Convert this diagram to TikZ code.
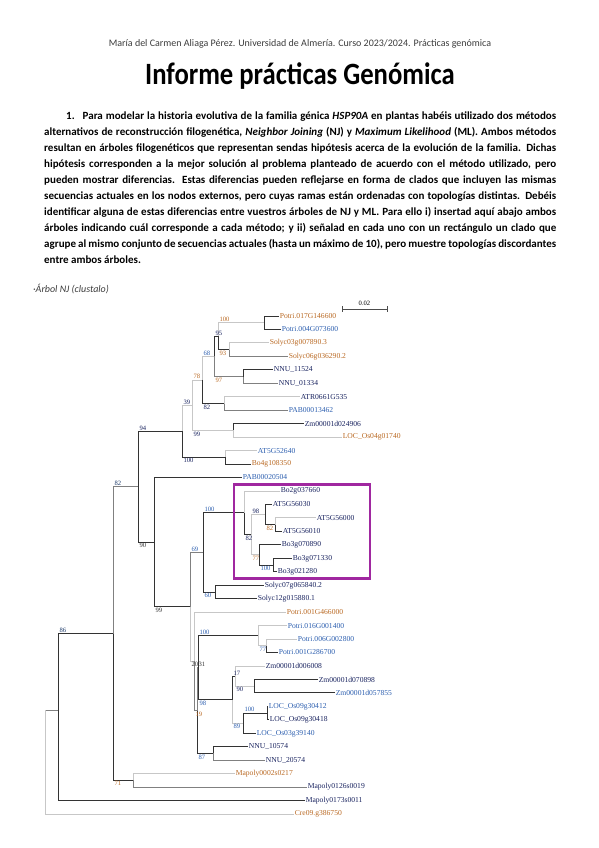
\documentclass[tikz,border=0pt]{standalone}
\usepackage{fontspec}
\setmainfont{Carlito}
\newfontfamily\treefont{Liberation Serif}
\newfontfamily\titlefont[FakeStretch=0.86]{Carlito}
\usepackage{tikz}
\definecolor{LeafNavy}{RGB}{25,35,95}
\definecolor{LeafBlue}{RGB}{45,95,175}
\definecolor{LeafOrange}{RGB}{185,105,35}
\definecolor{BoxPurple}{RGB}{160,40,160}
\definecolor{HeadGray}{RGB}{60,60,60}
\newcommand{\jline}[1]{\makebox[512pt][s]{#1}}

\begin{document}
\begin{tikzpicture}[x=1pt,y=-1pt,
  bd/.style={black!80, line width=0.9pt},
  bm/.style={black!50, line width=0.9pt},
  bl/.style={black!22, line width=0.9pt},
  leaf/.style={anchor=west, inner sep=0.6pt, font=\treefont\fontsize{7.6}{8}\selectfont},
  bsup/.style={anchor=south west, inner sep=0.3pt, font=\treefont\fontsize{6.6}{7}\selectfont},
  bsdn/.style={anchor=north west, inner sep=0.3pt, font=\treefont\fontsize{6.6}{7}\selectfont}]
  \path[use as bounding box] (0,0) rectangle (599,848);

  % page text
  \node[text=HeadGray, font=\fontsize{10}{12}\selectfont] (head) at (300,44)
    {María del Carmen Aliaga Pérez. Universidad de Almería. Curso 2023/2024. Prácticas genómica};
  \node[font=\titlefont\fontsize{31}{34}\selectfont\bfseries] (title) at (300,76) {Informe prácticas Genómica};
  \node[anchor=north west, inner sep=0pt, align=left, font=\fontsize{11}{15.9}\selectfont\bfseries] (task) at (44,112) {
    \jline{\hspace*{22pt}1.\hspace{8pt}Para modelar la historia evolutiva de la familia génica \textit{HSP90A} en plantas habéis utilizado dos métodos}\\
    \jline{alternativos de reconstrucción filogenética, \textit{Neighbor Joining} (NJ) y \textit{Maximum Likelihood} (ML). Ambos métodos}\\
    \jline{resultan en árboles filogenéticos que representan sendas hipótesis acerca de la evolución de la familia. Dichas}\\
    \jline{hipótesis corresponden a la mejor solución al problema planteado de acuerdo con el método utilizado, pero}\\
    \jline{pueden mostrar diferencias. Estas diferencias pueden reflejarse en forma de clados que incluyen las mismas}\\
    \jline{secuencias actuales en los nodos externos, pero cuyas ramas están ordenadas con topologías distintas. Debéis}\\
    \jline{identificar alguna de estas diferencias entre vuestros árboles de NJ y ML. Para ello i) insertad aquí abajo ambos}\\
    \jline{árboles indicando cuál corresponde a cada método; y ii) señalad en cada uno con un rectángulo un clado que}\\
    \jline{agrupe al mismo conjunto de secuencias actuales (hasta un máximo de 10), pero muestre topologías discordantes}\\
    entre ambos árboles.};
  \node[anchor=west, inner sep=0pt, text=HeadGray, font=\fontsize{10}{12}\selectfont\itshape] (treecap) at (33,289) {·Árbol NJ (clustalo)};

  % scale bar
  \draw[black!70, line width=0.7pt] (342,306) -- (342,312) (342,309) -- (387,309) (387,306) -- (387,312);
  \node[anchor=south, inner sep=0.5pt, font=\treefont\fontsize{6.6}{7}\selectfont] (scalelbl) at (364.5,306) {0.02};

  % leaves
  \node[leaf, text=LeafOrange] (potA) at (279,316.0) {Potri.017G146600};
  \node[leaf, text=LeafBlue] (potB) at (281,329.5) {Potri.004G073600};
  \node[leaf, text=LeafOrange] (solA) at (269,342.9) {Solyc03g007890.3};
  \node[leaf, text=LeafOrange] (solB) at (288,356.4) {Solyc06g036290.2};
  \node[leaf, text=LeafNavy] (nnuA) at (273,369.8) {NNU\_11524};
  \node[leaf, text=LeafNavy] (nnuB) at (278,383.3) {NNU\_01334};
  \node[leaf, text=LeafNavy] (atrA) at (300,396.8) {ATR0661G535};
  \node[leaf, text=LeafBlue] (pabA) at (288,410.2) {PAB00013462};
  \node[leaf, text=LeafNavy] (zmA) at (304,423.7) {Zm00001d024906};
  \node[leaf, text=LeafOrange] (osA) at (342,437.1) {LOC\_Os04g01740};
  \node[leaf, text=LeafBlue] (atA) at (257,450.6) {AT5G52640};
  \node[leaf, text=LeafOrange] (boA) at (251,464.1) {Bo4g108350};
  \node[leaf, text=LeafBlue] (pabB) at (242,477.5) {PAB00020504};
  \node[leaf, text=LeafNavy] (bo2) at (280,491.0) {Bo2g037660};
  \node[leaf, text=LeafNavy] (at30) at (272,504.4) {AT5G56030};
  \node[leaf, text=LeafNavy] (at00) at (316,517.9) {AT5G56000};
  \node[leaf, text=LeafNavy] (at10) at (282,531.4) {AT5G56010};
  \node[leaf, text=LeafNavy] (bo890) at (281,544.8) {Bo3g070890};
  \node[leaf, text=LeafNavy] (bo330) at (292,558.3) {Bo3g071330};
  \node[leaf, text=LeafNavy] (bo280) at (277,571.7) {Bo3g021280};
  \node[leaf, text=LeafNavy] (sol07) at (264,585.2) {Solyc07g065840.2};
  \node[leaf, text=LeafNavy] (sol12) at (257,598.7) {Solyc12g015880.1};
  \node[leaf, text=LeafOrange] (pot466) at (286,612.1) {Potri.001G466000};
  \node[leaf, text=LeafBlue] (pot016) at (287,625.6) {Potri.016G001400};
  \node[leaf, text=LeafBlue] (pot006) at (297,639.0) {Potri.006G002800};
  \node[leaf, text=LeafBlue] (pot286) at (278,652.5) {Potri.001G286700};
  \node[leaf, text=LeafNavy] (zm008) at (265,666.0) {Zm00001d006008};
  \node[leaf, text=LeafNavy] (zm898) at (318,679.4) {Zm00001d070898};
  \node[leaf, text=LeafBlue] (zm855) at (335,692.9) {Zm00001d057855};
  \node[leaf, text=LeafBlue] (os412) at (268,706.3) {LOC\_Os09g30412};
  \node[leaf, text=LeafNavy] (os418) at (269,719.8) {LOC\_Os09g30418};
  \node[leaf, text=LeafBlue] (os39) at (256,733.3) {LOC\_Os03g39140};
  \node[leaf, text=LeafNavy] (nnu10) at (248,746.7) {NNU\_10574};
  \node[leaf, text=LeafNavy] (nnu20) at (265,760.2) {NNU\_20574};
  \node[leaf, text=LeafOrange] (map02) at (235,773.6) {Mapoly0002s0217};
  \node[leaf, text=LeafNavy] (map126) at (307,787.1) {Mapoly0126s0019};
  \node[leaf, text=LeafNavy] (map173) at (305,800.5) {Mapoly0173s0011};
  \node[leaf, text=LeafOrange] (cre) at (294,814.0) {Cre09.g386750};

  % inner nodes
  \coordinate (pot1) at (264,322.75);
  \coordinate (sol1) at (229,349.65);
  \coordinate (n95) at (218,336.2);
  \coordinate (nnu1) at (243,376.55);
  \coordinate (n68) at (214,356.4);
  \coordinate (atr) at (224,403.5);
  \coordinate (n78) at (202,379.95);
  \coordinate (zmos) at (233,430.4);
  \coordinate (n39) at (192,405.2);
  \coordinate (at52) at (225,457.35);
  \coordinate (n94) at (182,431.3);
  \coordinate (n82b) at (275,524.65);
  \coordinate (n98b) at (265,514.5);
  \coordinate (n100c) at (273,565);
  \coordinate (n77b) at (259,554.9);
  \coordinate (n82c) at (251,534.7);
  \coordinate (nbox) at (244,512.85);
  \coordinate (sol2) at (215,591.95);
  \coordinate (nY) at (203,552.4);
  \coordinate (pot77) at (266,645.75);
  \coordinate (pot100) at (258,635.7);
  \coordinate (zm90) at (254,686.15);
  \coordinate (zm17) at (235,676.1);
  \coordinate (loc100) at (267,713.05);
  \coordinate (loc89) at (243,723.2);
  \coordinate (n98c) at (232,699.65);
  \coordinate (nW) at (198,667.7);
  \coordinate (nnu87) at (213,753.45);
  \coordinate (nV) at (197,710.6);
  \coordinate (nZ) at (194,661.35);
  \coordinate (nX) at (190,606.9);
  \coordinate (nD) at (154,542.2);
  \coordinate (nB) at (138,486.75);
  \coordinate (mapo) at (133,780.35);
  \coordinate (nA) at (113,633.55);
  \coordinate (n86) at (58,710);
  \coordinate (root) at (45,710);

  % branches
  \draw[bd] (pot1) |- (potA.west);
  \draw[bd] (pot1) |- (potB.west);
  \draw[bl] (n95) |- (pot1);
  \draw[bd] (n95) |- (sol1);
  \draw[bl] (sol1) |- (solA.west);
  \draw[bm] (sol1) |- (solB.west);
  \draw[bd] (n68) |- (n95);
  \draw[bm] (n68) |- (nnu1);
  \draw[bd] (nnu1) |- (nnuA.west);
  \draw[bm] (nnu1) |- (nnuB.west);
  \draw[bl] (n78) |- (n68);
  \draw[bd] (n78) |- (atr);
  \draw[bl] (atr) |- (atrA.west);
  \draw[bm] (atr) |- (pabA.west);
  \draw[bl] (n39) |- (n78);
  \draw[bl] (n39) |- (zmos);
  \draw[bd] (zmos) |- (zmA.west);
  \draw[bl] (zmos) |- (osA.west);
  \draw[bl] (n94) |- (n39);
  \draw[bd] (n94) |- (at52);
  \draw[bl] (at52) |- (atA.west);
  \draw[bd] (at52) |- (boA.west);
  \draw[bd] (nB) |- (n94);
  \draw[bd] (nB) |- (nD);
  \draw[bd] (nD) |- (pabB.west);
  \draw[bd] (nD) |- (nX);
  \draw[bm] (nX) |- (nY);
  \draw[bl] (nX) |- (nZ);
  \draw[bd] (nY) |- (nbox);
  \draw[bd] (nY) |- (sol2);
  \draw[bl] (nbox) |- (bo2.west);
  \draw[bd] (nbox) |- (n82c);
  \draw[bl] (n82c) |- (n98b);
  \draw[bl] (n82c) |- (n77b);
  \draw[bd] (n98b) |- (at30.west);
  \draw[bd] (n98b) |- (n82b);
  \draw[bl] (n82b) |- (at00.west);
  \draw[bd] (n82b) |- (at10.west);
  \draw[bd] (n77b) |- (bo890.west);
  \draw[bd] (n77b) |- (n100c);
  \draw[bd] (n100c) |- (bo330.west);
  \draw[bd] (n100c) |- (bo280.west);
  \draw[bd] (sol2) |- (sol07.west);
  \draw[bd] (sol2) |- (sol12.west);
  \draw[bl] (nZ) |- (pot466.west);
  \draw[bm] (nZ) |- (nV);
  \draw[bm] (nV) |- (nW);
  \draw[bd] (nV) |- (nnu87);
  \draw[bd] (nW) |- (pot100);
  \draw[bd] (nW) |- (n98c);
  \draw[bl] (pot100) |- (pot016.west);
  \draw[bl] (pot100) |- (pot77);
  \draw[bl] (pot77) |- (pot006.west);
  \draw[bd] (pot77) |- (pot286.west);
  \draw[bd] (n98c) |- (zm17);
  \draw[bl] (n98c) |- (loc89);
  \draw[bl] (zm17) |- (zm008.west);
  \draw[bl] (zm17) |- (zm90);
  \draw[bd] (zm90) |- (zm898.west);
  \draw[bd] (zm90) |- (zm855.west);
  \draw[bd] (loc89) |- (loc100);
  \draw[bd] (loc89) |- (os39.west);
  \draw[bd] (loc100) |- (os412.west);
  \draw[bd] (loc100) |- (os418.west);
  \draw[bd] (nnu87) |- (nnu10.west);
  \draw[bm] (nnu87) |- (nnu20.west);
  \draw[bm] (nA) |- (nB);
  \draw[bd] (nA) |- (mapo);
  \draw[bl] (mapo) |- (map02.west);
  \draw[bm] (mapo) |- (map126.west);
  \draw[bd] (n86) |- (nA);
  \draw[bd] (n86) |- (map173.west);
  \draw[bm] (root) -- (n86);
  \draw[bl] (root) |- (cre.west);

  % bootstrap values
  \node[bsup, text=LeafOrange] (bs1) at (219,322.2) {100};
  \node[bsup, text=LeafNavy] (bs2) at (215,335.6) {95};
  \node[bsdn, text=LeafOrange] (bs3) at (219,350.4) {93};
  \node[bsup, text=LeafBlue] (bs4) at (203,355.8) {68};
  \node[bsdn, text=LeafOrange] (bs5) at (215,377.3) {97};
  \node[bsup, text=LeafOrange] (bs6) at (193,379.4) {78};
  \node[bsdn, text=LeafNavy] (bs7) at (203,404.3) {82};
  \node[bsup, text=LeafNavy] (bs8) at (183,404.6) {39};
  \node[bsdn, text=LeafNavy] (bs9) at (193,431.2) {99};
  \node[bsup, text=LeafNavy] (bs10) at (139,430.7) {94};
  \node[bsdn, text=LeafNavy] (bs11) at (183,458.1) {100};
  \node[bsup, text=LeafBlue!60!black] (bs12) at (114,486.2) {82};
  \node[bsdn, text=black!80] (bs13) at (139,543) {90};
  \node[bsup, text=LeafBlue] (bs14) at (191,551.8) {69};
  \node[bsdn, text=black!80] (bs15) at (155,607.7) {99};
  \node[bsup, text=LeafBlue] (bs16) at (204,512.3) {100};
  \node[bsdn, text=LeafBlue] (bs17) at (204,592.7) {60};
  \node[bsup, text=LeafNavy] (bs18) at (252,513.9) {98};
  \node[bsdn, text=LeafNavy] (bs19) at (245,535.5) {82};
  \node[bsdn, text=LeafOrange] (bs20) at (266,525.4) {82};
  \node[bsdn, text=LeafOrange] (bs21) at (252,555.7) {77};
  \node[bsdn, text=LeafBlue] (bs22) at (260,565.8) {100};
  \node[bsdn, text=black!80] (bs23) at (191,662.1) {20};
  \node[bsup, text=black!80] (bs24) at (198,667.1) {31};
  \node[bsup, text=LeafBlue] (bs25) at (199,635.1) {100};
  \node[bsdn, text=LeafBlue] (bs26) at (199,700.4) {98};
  \node[bsdn, text=LeafOrange] (bs27) at (195,711.4) {19};
  \node[bsdn, text=LeafBlue] (bs28) at (198,754.2) {87};
  \node[bsdn, text=LeafBlue] (bs29) at (259,646.5) {77};
  \node[bsup, text=LeafNavy] (bs30) at (233,675.5) {17};
  \node[bsdn, text=LeafNavy] (bs31) at (236,686.9) {90};
  \node[bsup, text=LeafBlue] (bs32) at (244,712.5) {100};
  \node[bsdn, text=LeafBlue] (bs33) at (233,724) {89};
  \node[bsdn, text=LeafOrange] (bs34) at (114,781.1) {71};
  \node[bsup, text=LeafBlue!60!black] (bs35) at (59,633) {86};

  % clade box
  \draw[BoxPurple, line width=2.4pt] (234,484.5) rectangle (370,578.5);
\end{tikzpicture}
\end{document}
